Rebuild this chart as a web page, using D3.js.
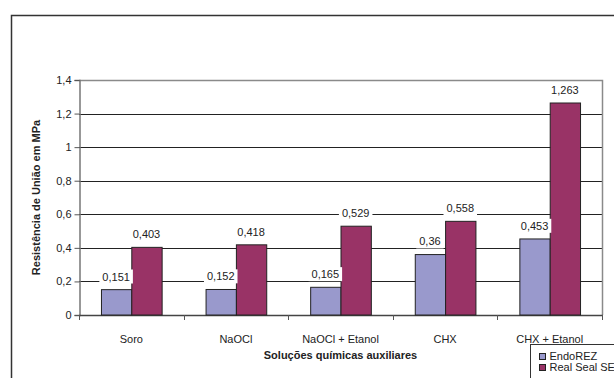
<!DOCTYPE html>
<html>
<head>
<meta charset="utf-8">
<script src="https://d3js.org/d3.v7.min.js"></script>
<style>
  body { margin: 0; background: #fff; }
  text { font-family: "Liberation Sans", Arial, sans-serif; }
</style>
</head>
<body>
<div id="chart"></div>
<script>
// data
const categories = ['Soro', 'NaOCl', 'NaOCl + Etanol', 'CHX', 'CHX + Etanol'];
const seriesNames = ['EndoREZ', 'Real Seal SE'];
const endoRez = [0.151, 0.152, 0.165, 0.36, 0.453];
const realSeal = [0.403, 0.418, 0.529, 0.558, 1.263];
const yTicks = [0, 0.2, 0.4, 0.6, 0.8, 1, 1.2, 1.4];
const colors = ['#9999cc', '#993366'];

const width = 614, height = 378;
const plot = { left: 79, right: 602, top: 80, bottom: 315 };

const svg = d3.select('#chart').append('svg')
    .attr('width', width)
    .attr('height', height);

const fmt = v => String(v).replace('.', ',');

// outer chart border
svg.append('rect')
    .attr('x', 11.5).attr('y', 15.5)
    .attr('width', 640).attr('height', 420)
    .attr('fill', '#fff')
    .attr('stroke', '#333')
    .attr('stroke-width', 1.5);

const x = d3.scaleBand()
    .domain(categories)
    .range([plot.left, plot.right]);

const barW = x.bandwidth() * 0.29;
const x1 = d3.scaleBand()
    .domain(seriesNames)
    .range([(x.bandwidth() - 2 * barW) / 2, (x.bandwidth() + 2 * barW) / 2]);

const y = d3.scaleLinear()
    .domain([0, 1.4])
    .range([plot.bottom, plot.top]);

// gridlines
svg.append('g')
    .selectAll('line')
    .data(yTicks.slice(1, -1))
    .join('line')
    .attr('x1', plot.left).attr('x2', plot.right)
    .attr('y1', d => Math.round(y(d)) + 0.5)
    .attr('y2', d => Math.round(y(d)) + 0.5)
    .attr('stroke', '#222')
    .attr('stroke-width', 1);

// plot area border (top & right)
svg.append('path')
    .attr('d', `M${plot.left},${plot.top + 0.5}H${plot.right + 0.5}V${plot.bottom}`)
    .attr('fill', 'none')
    .attr('stroke', '#8a8a8a')
    .attr('stroke-width', 1.5);

// y axis
const yAxis = svg.append('g')
    .attr('transform', `translate(${plot.left + 0.5},0)`)
    .call(d3.axisLeft(y).tickValues(yTicks).tickSize(5).tickFormat(fmt));
yAxis.select('.domain').attr('stroke', '#777').attr('stroke-width', 1.5);
yAxis.selectAll('.tick line').attr('stroke', '#555');
yAxis.selectAll('.tick text')
    .attr('font-size', '11px')
    .attr('font-family', '"Liberation Sans", Arial, sans-serif')
    .attr('fill', '#222')
    .attr('x', -8);

// x axis with ticks at category boundaries
const xAxisG = svg.append('g');
xAxisG.append('line')
    .attr('x1', plot.left).attr('x2', plot.right + 1)
    .attr('y1', plot.bottom + 0.5).attr('y2', plot.bottom + 0.5)
    .attr('stroke', '#444')
    .attr('stroke-width', 1.5);
xAxisG.selectAll('line.b')
    .data(categories.map(c => x(c)).concat([plot.right]))
    .join('line')
    .attr('class', 'b')
    .attr('x1', d => Math.round(d) + 0.5).attr('x2', d => Math.round(d) + 0.5)
    .attr('y1', plot.bottom).attr('y2', plot.bottom + 5)
    .attr('stroke', '#555');
xAxisG.selectAll('text')
    .data(categories)
    .join('text')
    .attr('x', d => x(d) + x.bandwidth() / 2)
    .attr('y', 343)
    .attr('text-anchor', 'middle')
    .attr('font-size', '11px')
    .attr('fill', '#222')
    .text(d => d);

// bars
const rows = categories.map((c, i) => ({ cat: c, vals: [endoRez[i], realSeal[i]] }));
const groups = svg.append('g')
    .selectAll('g')
    .data(rows)
    .join('g')
    .attr('transform', d => `translate(${x(d.cat)},0)`);

groups.selectAll('rect')
    .data(d => d.vals.map((v, i) => ({ name: seriesNames[i], v, i })))
    .join('rect')
    .attr('x', d => x1(d.name) + 0.5)
    .attr('y', d => y(d.v))
    .attr('width', x1.bandwidth())
    .attr('height', d => plot.bottom - y(d.v))
    .attr('fill', d => colors[d.i])
    .attr('stroke', '#222')
    .attr('stroke-width', 1);

// value labels with white boxes
const labels = groups.selectAll('g.lbl')
    .data(d => d.vals.map((v, i) => ({ name: seriesNames[i], v, i })))
    .join('g')
    .attr('class', 'lbl')
    .attr('transform', d => `translate(${x1(d.name) + x1.bandwidth() / 2},${y(d.v) - 13})`);

labels.append('text')
    .attr('text-anchor', 'middle')
    .attr('dy', '0.35em')
    .attr('font-size', '11px')
    .attr('fill', '#222')
    .text(d => fmt(d.v));

labels.each(function () {
    const g = d3.select(this);
    const bb = g.select('text').node().getBBox();
    g.insert('rect', 'text')
        .attr('x', bb.x - 3).attr('y', bb.y - 1)
        .attr('width', bb.width + 6).attr('height', bb.height + 2)
        .attr('fill', '#fff');
});

// axis titles
svg.append('text')
    .attr('transform', `translate(40,${(plot.top + plot.bottom) / 2}) rotate(-90)`)
    .attr('text-anchor', 'middle')
    .attr('font-size', '11px')
    .attr('font-weight', 'bold')
    .attr('fill', '#222')
    .text('Resistência de União em MPa');

svg.append('text')
    .attr('x', (plot.left + plot.right) / 2)
    .attr('y', 359)
    .attr('text-anchor', 'middle')
    .attr('font-size', '11px')
    .attr('font-weight', 'bold')
    .attr('fill', '#222')
    .text('Soluções químicas auxiliares');

// legend
const legend = svg.append('g').attr('transform', 'translate(530.5,344.5)');
legend.append('rect')
    .attr('width', 100).attr('height', 40)
    .attr('fill', '#fff')
    .attr('stroke', '#333');
const items = legend.selectAll('g')
    .data(seriesNames)
    .join('g')
    .attr('transform', (d, i) => `translate(9,${12 + i * 11})`);
items.append('rect')
    .attr('x', 0).attr('y', -3)
    .attr('width', 6).attr('height', 6)
    .attr('fill', (d, i) => colors[i])
    .attr('stroke', '#222');
items.append('text')
    .attr('x', 10).attr('dy', '0.35em')
    .attr('font-size', '11px')
    .attr('fill', '#222')
    .text(d => d);
</script>
</body>
</html>
